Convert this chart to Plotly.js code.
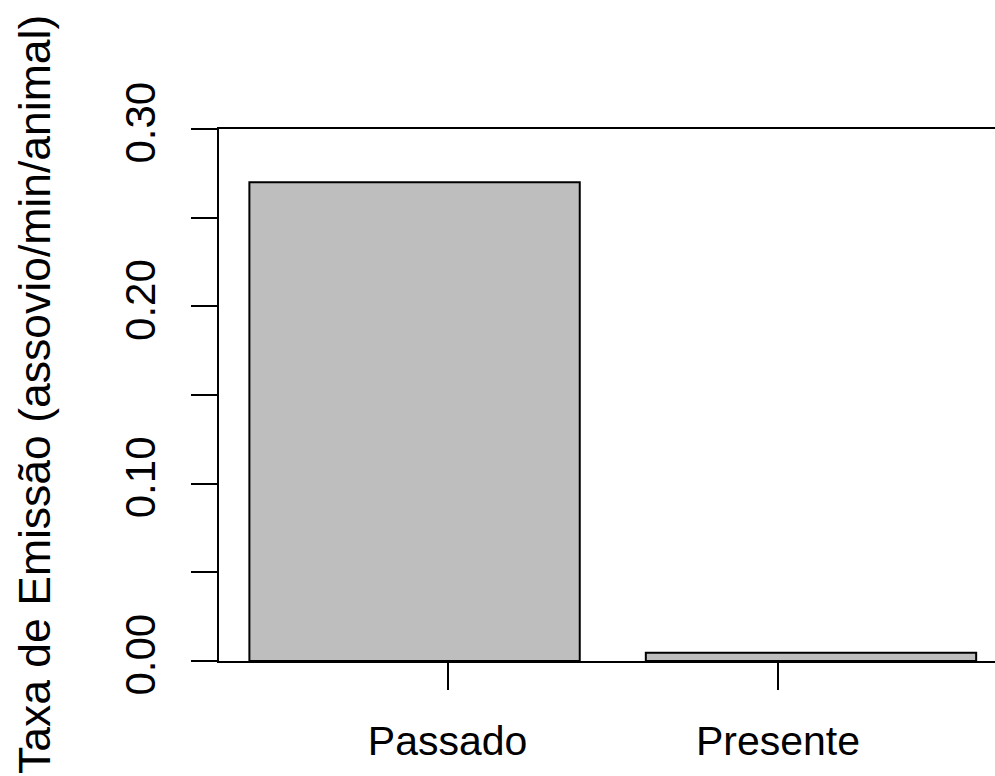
<!DOCTYPE html>
<html>
<head>
<meta charset="utf-8">
<script src="https://cdn.plot.ly/plotly-3.0.1.min.js"></script>
<style>html,body{margin:0;padding:0;background:#fff;}#chart{width:995px;height:776px;}</style>
</head>
<body>
<div id="chart"></div>
<script>
// Data
const categories = ["Passado", "Presente"];
const values = [0.27, 0.0047];
const barPositions = [0.7, 1.9];          // R barplot default centres (width 1, space 0.2)
const tickPositions = [0.8, 1.8];         // x-axis label positions
const yTickVals = [0, 0.05, 0.10, 0.15, 0.20, 0.25, 0.30];
const yTickText = ["0.00", "", "0.10", "", "0.20", "", "0.30"];
const yTitle = "Taxa de Emissão (assovio/min/animal)";

const font = "Liberation Sans, Arial, sans-serif";

const trace = {
  type: "bar",
  x: barPositions,
  y: values,
  width: 1,
  marker: { color: "#bebebe", line: { color: "#000", width: 2 } },
  hoverinfo: "skip"
};

const layout = {
  width: 995,
  height: 776,
  margin: { l: 219, r: 0, t: 129, b: 115 },
  paper_bgcolor: "#fff",
  plot_bgcolor: "#fff",
  showlegend: false,
  font: { family: font, color: "#000" },
  xaxis: {
    range: [0.108, 2.457],
    tickmode: "array",
    tickvals: tickPositions,
    ticktext: categories,
    ticks: "outside",
    ticklen: 27,
    tickwidth: 2,
    tickcolor: "#000",
    tickfont: { family: font, size: 41, color: "#000" },
    ticklabelstandoff: 16,
    showgrid: false,
    zeroline: false,
    showline: true,
    linecolor: "#000",
    linewidth: 2,
    mirror: true,
    fixedrange: true
  },
  yaxis: {
    range: [0, 0.30],
    tickmode: "array",
    tickvals: yTickVals,
    ticktext: yTickText,
    ticks: "outside",
    ticklen: 26,
    tickwidth: 2,
    tickcolor: "#000",
    tickangle: -90,
    tickfont: { family: font, size: 42, color: "#000" },
    ticklabelstandoff: 19,
    showgrid: false,
    zeroline: false,
    showline: true,
    linecolor: "#000",
    linewidth: 2,
    fixedrange: true
  },
  annotations: [{
    text: yTitle,
    xref: "paper", yref: "paper",
    x: (34 - 219) / 776, y: 0.5,
    xanchor: "center", yanchor: "middle",
    textangle: -90,
    showarrow: false,
    font: { family: font, size: 44.5, color: "#000" }
  }]
};

Plotly.newPlot("chart", [trace], layout, { displayModeBar: false, staticPlot: true });
</script>
</body>
</html>
